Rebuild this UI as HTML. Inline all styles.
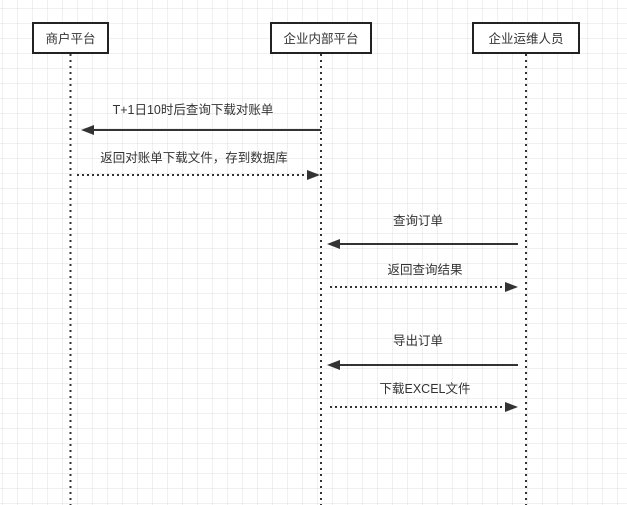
<!DOCTYPE html>
<html><head><meta charset="utf-8"><style>
html,body{margin:0;padding:0;background:#fff;}
svg{display:block;}
text{font-family:"Liberation Sans","Noto Sans CJK SC",sans-serif;font-size:12.5px;fill:#333;}
</style></head><body>
<svg width="627" height="505" xmlns="http://www.w3.org/2000/svg">
<defs>
<pattern id="g" x="2" y="8" width="15" height="15" patternUnits="userSpaceOnUse">
<path d="M0 0H15M0 0V15" stroke="#e2e2e2" stroke-width="1" fill="none"/>
</pattern>
</defs>
<rect width="627" height="505" fill="url(#g)"/>
<g stroke="#333" stroke-width="2" stroke-dasharray="2,4" fill="none">
<line x1="70.5" y1="54" x2="70.5" y2="505"/>
<line x1="321" y1="54" x2="321" y2="505"/>
<line x1="526" y1="54" x2="526" y2="505"/>
</g>
<g fill="#fff" stroke="#222" stroke-width="2">
<rect x="33" y="23" width="75" height="30"/>
<rect x="271" y="23" width="100" height="30"/>
<rect x="473" y="23" width="106" height="30"/>
</g>
<text x="70.5" y="43" text-anchor="middle">商户平台</text>
<text x="321" y="43" text-anchor="middle">企业内部平台</text>
<text x="526" y="43" text-anchor="middle">企业运维人员</text>
<g stroke="#333" stroke-width="2" fill="none">
<line x1="321" y1="130" x2="90" y2="130"/>
<line x1="518" y1="244" x2="337" y2="244"/>
<line x1="518" y1="365" x2="337" y2="365"/>
</g>
<g stroke="#333" stroke-width="2" stroke-dasharray="2,3" fill="none">
<line x1="77" y1="175" x2="308" y2="175"/>
<line x1="330" y1="287" x2="506" y2="287"/>
<line x1="330" y1="407" x2="506" y2="407"/>
</g>
<g fill="#333">
<polygon points="81,130 94,125 94,135"/>
<polygon points="327,244 340,239 340,249"/>
<polygon points="327,365 340,360 340,370"/>
<polygon points="320,175 307,170 307,180"/>
<polygon points="518,287 505,282 505,292"/>
<polygon points="518,407 505,402 505,412"/>
</g>
<text x="193" y="114" text-anchor="middle">T+1日10时后查询下载对账单</text>
<text x="194" y="162" text-anchor="middle">返回对账单下载文件，存到数据库</text>
<text x="418" y="225" text-anchor="middle">查询订单</text>
<text x="425" y="274" text-anchor="middle">返回查询结果</text>
<text x="418" y="345" text-anchor="middle">导出订单</text>
<text x="425" y="393" text-anchor="middle">下载EXCEL文件</text>
</svg>
</body></html>
